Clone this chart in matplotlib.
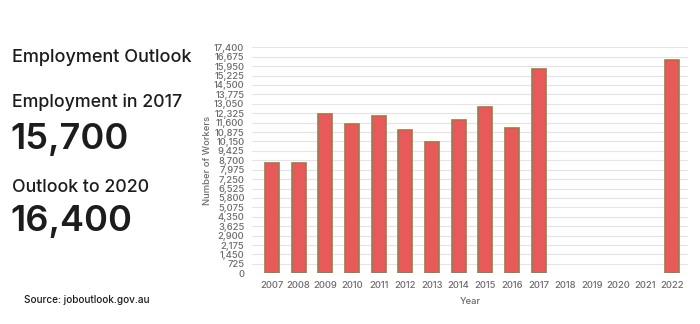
import numpy as np
import matplotlib
matplotlib.use("Agg")
import matplotlib.pyplot as plt

plt.rcParams['font.family'] = ['Inter', 'DejaVu Sans']

# data
years = ['2007', '2008', '2009', '2010', '2011', '2012', '2013', '2014',
         '2015', '2016', '2017', '2018', '2019', '2020', '2021', '2022']
workers = [8500, 8500, 12300, 11500, 12100, 11000, 10100, 11800,
           12800, 11200, 15700, np.nan, np.nan, np.nan, np.nan, 16400]
yticks = list(range(0, 17401, 725))

fig = plt.figure(figsize=(7, 3.24), dpi=100)

# left text panel
dark = '#1c1c1c'
fig.text(12/700, 1 - 58/324, "Employment Outlook", fontsize=13, color=dark, va='center', weight='medium')
fig.text(12/700, 1 - 102/324, "Employment in 2017", fontsize=12.8, color=dark, va='center', weight='medium')
fig.text(10/700, 1 - 139/324, "15,700", fontsize=26, color=dark, va='center', weight='semibold')
fig.text(12/700, 1 - 187/324, "Outlook to 2020", fontsize=12.8, color=dark, va='center', weight='medium')
fig.text(10/700, 1 - 222/324, "16,400", fontsize=26, color=dark, va='center', weight='semibold')
fig.text(24/700, 1 - 300/324, "Source: joboutlook.gov.au", fontsize=7.2, color=dark, va='center', weight='medium')

# bar chart
ax = fig.add_axes([252/700, 1 - 273.3/324, 436/700, 226/324])
x = np.arange(len(years))
ax.bar(x, workers, width=0.52, color='#e85a5a', edgecolor='#9a7a52', linewidth=1.2, zorder=3)

ax.set_ylim(0, 17400)
ax.set_xlim(-0.75, 15.6)
ax.set_yticks(yticks)
ax.set_yticklabels([f"{v:,}" for v in yticks])
ax.set_xticks(x)
ax.set_xticklabels(years)
ax.grid(axis='y', color='#e4e4e4', linewidth=0.8, zorder=0)
for s in ax.spines.values():
    s.set_visible(False)
ax.tick_params(axis='both', length=0, labelsize=6.8, labelcolor='#6e6a6e')
ax.tick_params(axis='y', pad=5.5)
ax.tick_params(axis='x', pad=5.5)
ax.set_ylabel("Number of Workers", fontsize=6.8, color='#6e6a6e', labelpad=1)
ax.set_xlabel("Year", fontsize=6.8, color='#6e6a6e', labelpad=5)
for lbl in ax.get_xticklabels() + ax.get_yticklabels():
    lbl.set_fontweight('medium')
ax.xaxis.label.set_fontweight('medium')
ax.yaxis.label.set_fontweight('medium')

fig.savefig("out.png", dpi=100)
